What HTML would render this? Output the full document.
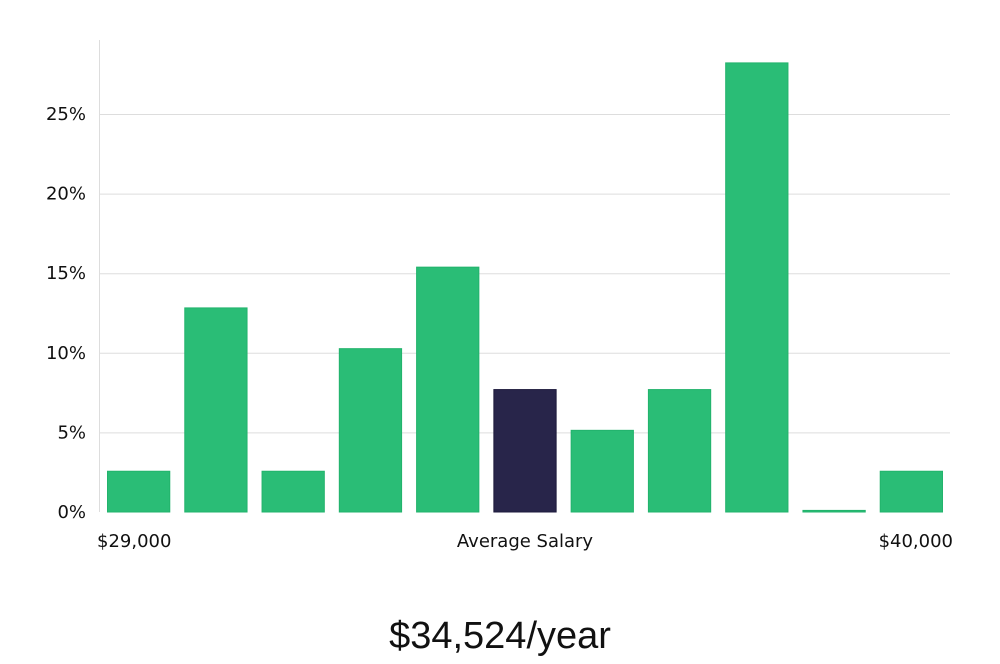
<!DOCTYPE html>
<html><head><meta charset="utf-8"><style>
body{margin:0;background:#fff;width:1000px;height:660px;overflow:hidden;font-family:"DejaVu Sans","Liberation Sans",sans-serif;}
</style></head><body>
<svg width="1000" height="660" id="chart">
<line x1="99.5" y1="40" x2="99.5" y2="512" stroke="#ddd"/>
<g id="grid"></g><g id="bars"></g>
<text x="97" y="547" font-size="18" fill="#111">$29,000</text>
<text x="525" y="547" font-size="18" fill="#111" text-anchor="middle">Average Salary</text>
<text x="953" y="547" font-size="18" fill="#111" text-anchor="end">$40,000</text>
<text x="500" y="648" font-size="38" fill="#111" text-anchor="middle" font-family="Liberation Sans Narrow, Liberation Sans, sans-serif" font-weight="300">$34,524/year</text>
</svg>
<script>
const categories=["b1","b2","b3","b4","b5","b6","b7","b8","b9","b10","b11"];
const values=[2.56,12.82,2.56,10.26,15.38,7.69,5.13,7.69,28.21,0.1,2.56];
const highlightIndex=5;
const yTicks=[0,5,10,15,20,25];
const yTickLabels=["0%","5%","10%","15%","20%","25%"];
const ns="http://www.w3.org/2000/svg";
const x0=100,x1=950,y0=512,pxPer=(512-114)/25;
const y=v=>y0-v*pxPer;
const slot=(x1-x0)/categories.length;
const g=document.getElementById('grid'),b=document.getElementById('bars');
yTicks.forEach((t,i)=>{
  if(t>0){const l=document.createElementNS(ns,'line');
  
  
  l.setAttribute('x1',x0);l.setAttribute('x2',x1);l.setAttribute('y1',y(t)+0.5);l.setAttribute('y2',y(t)+0.5);l.setAttribute('stroke','#ddd');g.appendChild(l);}
  const tx=document.createElementNS(ns,'text');
  
  
  tx.setAttribute('x',86);tx.setAttribute('y',y(t)+6);tx.setAttribute('text-anchor','end');tx.setAttribute('font-size','18');tx.setAttribute('fill','#111');tx.textContent=yTickLabels[i];g.appendChild(tx);
});
values.forEach((v,i)=>{
  const r=document.createElementNS(ns,'rect');
  
  
  const h=Math.max(v*pxPer,1);
  r.setAttribute('x',x0+i*slot+7.5);r.setAttribute('width',slot-15);
  r.setAttribute('y',y0-h);r.setAttribute('height',h);
  const hl=i===highlightIndex;
  r.setAttribute('fill',hl?'#28254a':'#2abd76');r.setAttribute('stroke',hl?'#1d1a3c':'#22b36c');r.setAttribute('stroke-width','1');
  b.appendChild(r);
});
</script>
</body></html>
